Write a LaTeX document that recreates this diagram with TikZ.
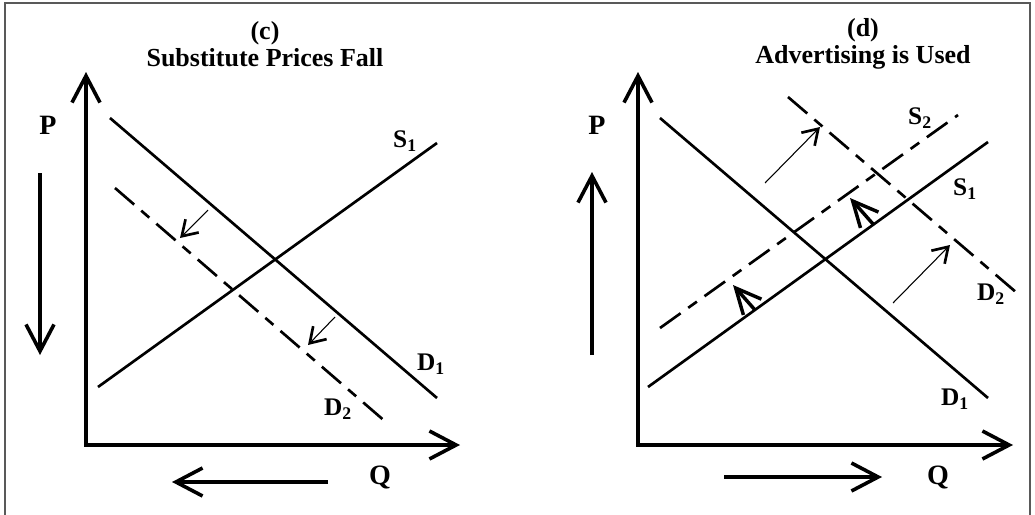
\documentclass[tikz,border=0pt]{standalone}
\usepackage{fontspec}
\setmainfont{Liberation Serif}
\usetikzlibrary{arrows.meta}
\tikzset{
  axes/.style={line width=2.7pt, {Straight Barb[length=20pt,width=21pt]}-{Straight Barb[length=20pt,width=21pt]}},
  movearrow/.style={line width=2.7pt, -{Straight Barb[length=20pt,width=21pt]}},
  curve/.style={line width=2pt},
  newcurve/.style={line width=2pt, dash pattern=on 19pt off 7pt on 8pt off 7pt},
  shiftarrow/.style={line width=0.8pt, -{Straight Barb[length=11pt,width=14pt,line width=2pt]}},
  pusharrow/.style={line width=2.6pt, -{Straight Barb[length=19pt,width=18pt]}},
  paneltitle/.style={align=center, font=\fontsize{19.5}{20}\selectfont\bfseries},
  axislabel/.style={font=\fontsize{21}{23}\selectfont\bfseries},
  curvelabel/.style={font=\fontsize{19}{21}\selectfont\bfseries}
}

\begin{document}
\begin{tikzpicture}[x=0.75pt, y=-0.75pt]
  \useasboundingbox (0,0) rectangle (1035,514);
  \draw[gray!70!black, line width=0.8pt] (5,3) rectangle (1030,518);

  % (c) substitute prices fall
  \node[paneltitle] (titlec) at (265,44) {(c)\\Substitute Prices Fall};
  \coordinate (oc) at (86,445);
  \coordinate (pc) at (86,72);
  \coordinate (qc) at (460,445);
  \draw[axes, line join=miter] (pc) -- (oc) -- (qc);
  \coordinate (d1c-a) at (110,118);
  \coordinate (d1c-b) at (437,398);
  \coordinate (s1c-a) at (98,387);
  \coordinate (s1c-b) at (437,143);
  \coordinate (d2c-a) at (115,188);
  \coordinate (d2c-b) at (387,423);
  \draw[curve] (d1c-a) -- (d1c-b);
  \draw[curve] (s1c-a) -- (s1c-b);
  \draw[newcurve] (d2c-a) -- (d2c-b);
  \node[axislabel] (Pc) at (48,125) {P};
  \node[axislabel] (Qc) at (380,477) {Q};
  \node[curvelabel] (S1c) at (405,141) {S\textsubscript{1}};
  \node[curvelabel] (D1c) at (431,364) {D\textsubscript{1}};
  \node[curvelabel] (D2c) at (338,409) {D\textsubscript{2}};
  \coordinate (pdown-a) at (40,173);
  \coordinate (pdown-b) at (40,355);
  \coordinate (qleft-a) at (328,482);
  \coordinate (qleft-b) at (172,482);
  \draw[movearrow] (pdown-a) -- (pdown-b);
  \draw[movearrow] (qleft-a) -- (qleft-b);
  \coordinate (sc1-a) at (208,210);
  \coordinate (sc1-b) at (180,238);
  \coordinate (sc2-a) at (335,317);
  \coordinate (sc2-b) at (308,345);
  \draw[shiftarrow] (sc1-a) -- (sc1-b);
  \draw[shiftarrow] (sc2-a) -- (sc2-b);

  % (d) advertising is used
  \node[paneltitle] (titled) at (863,44) {(d)\\Advertising is Used};
  \coordinate (od) at (638,445);
  \coordinate (pd) at (638,72);
  \coordinate (qd) at (1013,445);
  \draw[axes, line join=miter] (pd) -- (od) -- (qd);
  \coordinate (d1d-a) at (660,118);
  \coordinate (d1d-b) at (988,398);
  \coordinate (s1d-a) at (648,387);
  \coordinate (s1d-b) at (988,142);
  \coordinate (s2d-a) at (660,328);
  \coordinate (s2d-b) at (958,115);
  \coordinate (d2d-a) at (788,97);
  \coordinate (d2d-b) at (1017,293);
  \draw[curve] (d1d-a) -- (d1d-b);
  \draw[curve] (s1d-a) -- (s1d-b);
  \draw[newcurve] (s2d-a) -- (s2d-b);
  \draw[newcurve] (d2d-a) -- (d2d-b);
  \node[axislabel] (Pd) at (597,125) {P};
  \node[axislabel] (Qd) at (938,477) {Q};
  \node[curvelabel] (S2d) at (920,118) {S\textsubscript{2}};
  \node[curvelabel] (S1d) at (965,189) {S\textsubscript{1}};
  \node[curvelabel] (D2d) at (991,294) {D\textsubscript{2}};
  \node[curvelabel] (D1d) at (955,399) {D\textsubscript{1}};
  \coordinate (pup-a) at (592,355);
  \coordinate (pup-b) at (592,172);
  \coordinate (qright-a) at (724,477);
  \coordinate (qright-b) at (882,477);
  \draw[movearrow] (pup-a) -- (pup-b);
  \draw[movearrow] (qright-a) -- (qright-b);
  \coordinate (dd1-a) at (765,183);
  \coordinate (dd1-b) at (820,127);
  \coordinate (dd2-a) at (893,303);
  \coordinate (dd2-b) at (950,245);
  \draw[shiftarrow] (dd1-a) -- (dd1-b);
  \draw[shiftarrow] (dd2-a) -- (dd2-b);
  \coordinate (sd1-a) at (755,310);
  \coordinate (sd1-b) at (733,285);
  \coordinate (sd2-a) at (873,224);
  \coordinate (sd2-b) at (850,198);
  \draw[pusharrow] (sd1-a) -- (sd1-b);
  \draw[pusharrow] (sd2-a) -- (sd2-b);
\end{tikzpicture}
\end{document}
